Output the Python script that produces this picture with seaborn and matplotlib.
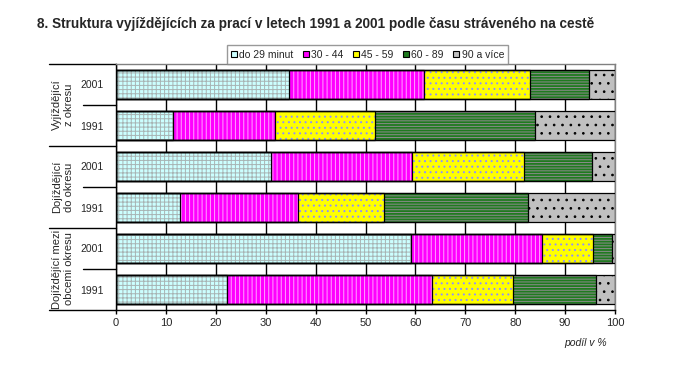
import pandas as pd
import numpy as np
import matplotlib
matplotlib.use("Agg")
import matplotlib.pyplot as plt
import seaborn as sns
from matplotlib.patches import Patch
from matplotlib import font_manager

# data (shares in %)
groups = ["Vyjíždějící\nz okresu", "Dojíždějící\ndo okresu", "Dojíždějící mezi\nobcemi okresu"]
years = ["2001", "1991"]
categories = ["do 29 minut", "30 - 44", "45 - 59", "60 - 89", "90 a více"]
do_29 = [34.7, 11.5, 31.1, 12.8, 59.1, 22.3]
m30_44 = [27.1, 20.3, 28.3, 23.6, 26.2, 41.1]
m45_59 = [21.2, 20.2, 22.4, 17.4, 10.2, 16.2]
m60_89 = [11.7, 32.0, 13.5, 28.7, 3.8, 16.5]
m90_plus = [5.3, 16.0, 4.7, 17.5, 0.7, 3.9]

face = ["#ccffff", "#ff00ff", "#ffff00", "#1f7a1f", "#c0c0c0"]
hatch_col = ["#a8b4b4", "#ffa6ff", "#8f8fff", "#8c8c8c", "#000000"]
hatches = ["++++", "||||", "...", "------", ".."]

names = [f"{g} {y}" for g in groups for y in years]
df = pd.DataFrame({"row": names, "do 29 minut": do_29, "30 - 44": m30_44,
                   "45 - 59": m45_59, "60 - 89": m60_89, "90 a více": m90_plus})
cum = df[categories].cumsum(axis=1)

sans = ["Liberation Sans", "DejaVu Sans"]
installed = {f.name for f in font_manager.fontManager.ttflist}
narrow = "Liberation Sans Narrow" if "Liberation Sans Narrow" in installed else "Liberation Sans"

sns.set_style("white")
plt.rcParams["font.family"] = sans
plt.rcParams["hatch.linewidth"] = 0.7

fig = plt.figure(figsize=(6.74, 3.71), dpi=100)
ax = fig.add_axes([116 / 674, 1 - 310 / 371, 499 / 674, 246 / 371])

# stacked bars: draw cumulative totals from the longest down
for k in range(len(categories) - 1, -1, -1):
    sns.barplot(x=cum[categories[k]], y=df["row"], orient="h", color=face[k],
                saturation=1, width=0.71, errorbar=None, ax=ax,
                edgecolor=hatch_col[k], linewidth=0, hatch=hatches[k], zorder=2)
for k in range(len(categories)):
    sns.barplot(x=cum[categories[k]], y=df["row"], orient="h", color="black",
                fill=False, width=0.71, errorbar=None, ax=ax, linewidth=0.9, zorder=3)

ax.set_xlim(0, 100)
ax.set_ylim(len(names) - 0.5, -0.5)
ax.set_xticks(range(0, 101, 10))
ax.xaxis.grid(True, color="black", linewidth=1)
ax.set_axisbelow(True)
ax.set_xlabel("")
ax.set_ylabel("")
ax.set_yticks(range(len(names)))
ax.set_yticklabels(years * 3, fontsize=7.5)
ax.tick_params(axis="y", length=0, pad=9)
ax.tick_params(axis="x", length=3, width=1, color="black", labelsize=8, pad=3, bottom=True)
for s in ["left", "bottom"]:
    ax.spines[s].set_color("black")
    ax.spines[s].set_linewidth(1)
for s in ["top", "right"]:
    ax.spines[s].set_color("#808080")
    ax.spines[s].set_linewidth(1)

# category separators on the left
tr = ax.get_yaxis_transform()
for yb in [-0.5, 1.5, 3.5, 5.5]:
    ax.plot([-0.134, 0], [yb, yb], transform=tr, color="black", lw=1, clip_on=False)
for yb in [0.5, 2.5, 4.5]:
    ax.plot([-0.066, 0], [yb, yb], transform=tr, color="black", lw=1, clip_on=False)
for i, g in enumerate(groups):
    ax.text(-0.106, 2 * i + 0.5, g, transform=tr, rotation=90, ha="center", va="center",
            multialignment="center", fontsize=8, linespacing=1.25)

fig.text(37 / 674, 1 - 24 / 371,
         "8. Struktura vyjíždějících za prací v letech 1991 a 2001 podle času stráveného na cestě",
         family=narrow, weight="bold", fontsize=9.8, ha="left", va="center")
fig.text(607 / 674, 1 - 343 / 371, "podíl v %", style="italic", fontsize=7.5,
         ha="right", va="center")

handles = [Patch(facecolor=face[k], edgecolor="black", linewidth=0.8) for k in range(5)]
leg = fig.legend(handles, categories, loc="center", bbox_to_anchor=(367.5 / 674, 1 - 54.5 / 371),
                 ncol=5, fontsize=7.5, frameon=True, fancybox=False, handlelength=0.6,
                 handleheight=0.6, handletextpad=0.2, columnspacing=0.9, borderpad=0.4)
leg.get_frame().set_edgecolor("#808080")
leg.get_frame().set_linewidth(1)
leg.set_zorder(5)

fig.savefig("out.png", dpi=100)
